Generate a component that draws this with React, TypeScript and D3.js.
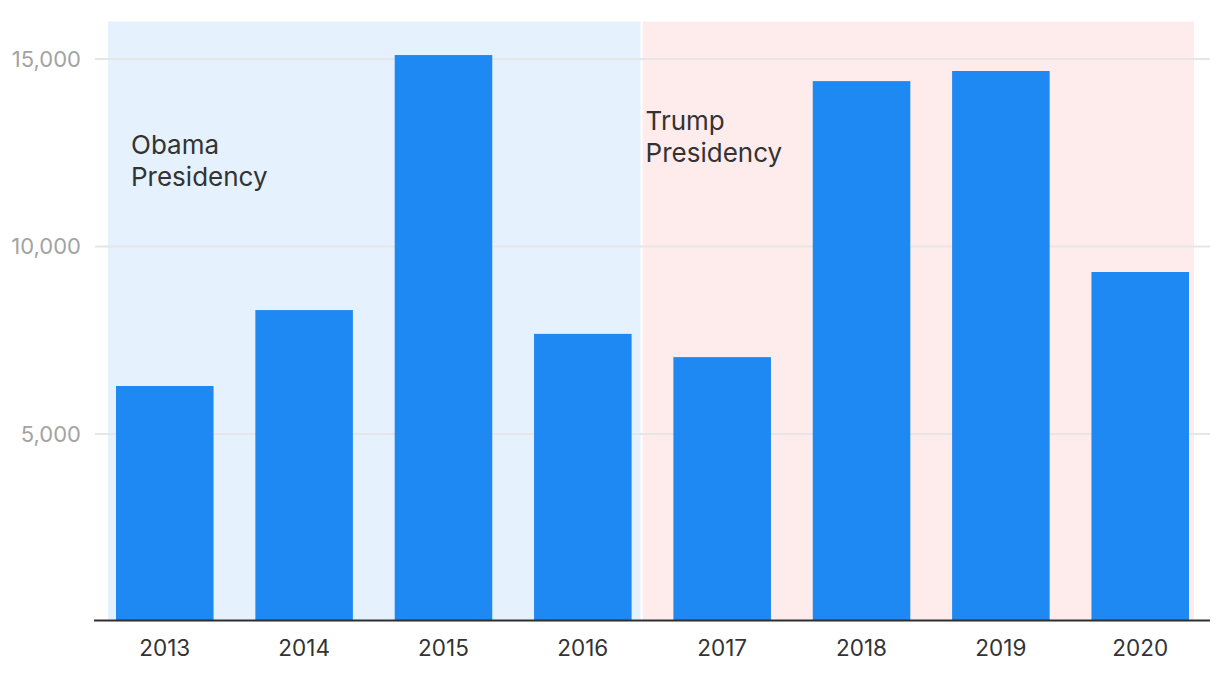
import React from "react";
import * as d3 from "d3";

const years = ["2013", "2014", "2015", "2016", "2017", "2018", "2019", "2020"];
const values = [6280, 8305, 15105, 7670, 7050, 14410, 14680, 9320];
const yTicks = [5000, 10000, 15000];
const periodNames = ["Obama", "Trump"];
const periodLabels = [["Obama", "Presidency"], ["Trump", "Presidency"]];
const periodFirstYear = ["2013", "2017"];
const periodLastYear = ["2016", "2020"];
const periodColors = ["#e5f1fd", "#feecec"];

const W = 1220;
const H = 682;
const FONT = "Inter, 'Noto Sans', sans-serif";

export default function App() {
  const x = d3.scaleBand<string>().domain(years).range([116, 1189]).paddingInner(0.3).paddingOuter(0);
  const y = d3.scaleLinear().domain([0, 16000]).range([621.5, 21.5]);
  const bw = x.bandwidth();
  const gap = x.step() - bw;
  const fmt = d3.format(",");

  const boundary = (x("2016") as number) + bw + gap * 0.215;
  const shade = periodNames.map((_, i) => {
    const x0 = i === 0 ? (x(periodFirstYear[i]) as number) - 8 : boundary + 2;
    const x1 = i === 0 ? boundary : (x(periodLastYear[i]) as number) + bw + 5;
    return { x0, x1 };
  });

  const top = y(16000);
  const base = y(0);

  return (
    <svg width={W} height={H} style={{ position: "absolute", left: 0, top: 0, background: "#fff" }}>
      {shade.map((s, i) => (
        <rect key={periodNames[i]} x={s.x0} y={top} width={s.x1 - s.x0} height={base - top} fill={periodColors[i]} />
      ))}
      {yTicks.map((t) => (
        <g key={t}>
          <line x1={95} x2={1210} y1={y(t)} y2={y(t)} stroke="#e6e6e6" strokeWidth={2} />
          <text x={81} y={y(t)} dy="0.36em" textAnchor="end" fontFamily={FONT} fontSize={22} fill="#a3a3a3">
            {fmt(t)}
          </text>
        </g>
      ))}
      {years.map((yr, i) => (
        <rect key={yr} x={x(yr)} y={y(values[i])} width={bw} height={base - 1 - y(values[i])} fill="#1e88f3" />
      ))}
      <line x1={94} x2={1210} y1={base - 1} y2={base - 1} stroke="#2f2f2f" strokeWidth={2} />
      {years.map((yr) => (
        <text key={yr} x={(x(yr) as number) + bw / 2} y={656} textAnchor="middle" fontFamily={FONT} fontSize={22.5} fill="#333">
          {yr}
        </text>
      ))}
      {periodLabels.map((lines, i) => {
        const tx = i === 0 ? shade[0].x0 + 23 : shade[1].x0 + 3;
        const ty = i === 0 ? top + 132 : top + 108;
        return (
          <text key={periodNames[i]} fontFamily={FONT} fontSize={26} fill="#333">
            {lines.map((l, j) => (
              <tspan key={j} x={tx} y={ty + j * 32}>
                {l}
              </tspan>
            ))}
          </text>
        );
      })}
    </svg>
  );
}
